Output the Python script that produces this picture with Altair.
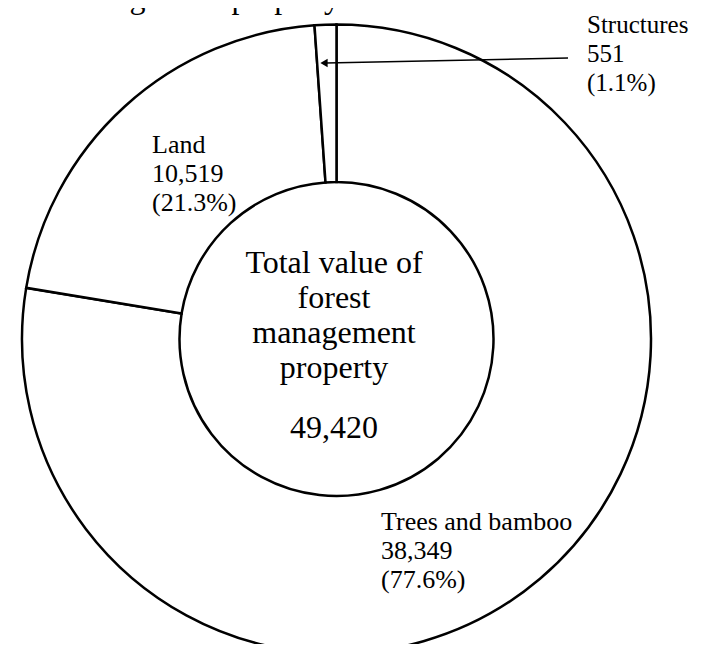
import altair as alt
import pandas as pd

# ---- data ----
categories = ["Trees and bamboo", "Land", "Structures"]
values = [38349, 10519, 551]
order_idx = [0, 1, 2]
reported_total = 49420  # total as printed in the source (parts are rounded)
center_lines = ["Total value of", "forest", "management", "property"]
title_text = "Composition of forest management property"

total_label = f"{reported_total:,}"

df = pd.DataFrame({"category": categories, "value": values, "idx": order_idx})

FONT = "Liberation Serif"
CX, CY = 328.5, 331
R_OUT, R_IN = 314.5, 157

base = alt.Chart(df)

arcs = base.mark_arc(
    outerRadius=R_OUT, innerRadius=R_IN, fill="white",
    stroke="black", strokeWidth=2.5, strokeJoin="miter"
).encode(
    theta=alt.Theta("value:Q", stack=True, scale=alt.Scale(range=[0, 6.283185307179586])),
    order=alt.Order("idx:Q"),
    x=alt.value(CX),
    y=alt.value(CY),
)

label_expr = ("[datum.category, format(datum.value, ','), "
              "'(' + format(datum.value / %d * 100, '.1f') + '%%)']" % reported_total)

label_pos = {
    "Structures": (579, 25, 25),
    "Land": (144, 145, 26),
    "Trees and bamboo": (373, 522, 26),
}

labels = []
for cat in categories:
    lx, ly, fs = label_pos[cat]
    labels.append(
        base.transform_filter(alt.datum.category == cat)
        .transform_calculate(lines=label_expr)
        .mark_text(font=FONT, fontSize=fs, align="left", baseline="alphabetic",
                   lineHeight=29, color="black")
        .encode(text=alt.Text("lines:N"), x=alt.value(lx), y=alt.value(ly))
    )

center_df = pd.DataFrame({"t": [center_lines]})
center_text = alt.Chart(center_df).mark_text(
    font=FONT, fontSize=32, align="center", baseline="alphabetic",
    lineHeight=35, color="black"
).encode(text=alt.Text("t:N"), x=alt.value(326), y=alt.value(265))

total_text = alt.Chart(pd.DataFrame({"t": [total_label]})).mark_text(
    font=FONT, fontSize=32, align="center", baseline="alphabetic", color="black"
).encode(text=alt.Text("t:N"), x=alt.value(326), y=alt.value(430))

title = alt.Chart(pd.DataFrame({"t": [title_text]})).mark_text(
    font=FONT, fontSize=32, align="right", baseline="alphabetic", color="black"
).encode(text=alt.Text("t:N"), x=alt.value(332), y=alt.value(0))

arrow_line = alt.Chart(pd.DataFrame({"a": [0]})).mark_rule(
    color="black", strokeWidth=1.5
).encode(x=alt.value(560), y=alt.value(50), x2=alt.value(318), y2=alt.value(55))

arrow_head = alt.Chart(pd.DataFrame({"a": [0]})).mark_point(
    shape="triangle-left", filled=True, color="black", size=70, opacity=1
).encode(x=alt.value(316), y=alt.value(55))

chart = alt.layer(
    arcs, *labels, center_text, total_text, title, arrow_line, arrow_head
).properties(
    width=685, height=636, padding=0,
    autosize=alt.AutoSizeParams(type="none"),
    background="white",
).configure_view(stroke=None)

chart.save("out.html", embed_options={"renderer": "svg", "actions": False})
